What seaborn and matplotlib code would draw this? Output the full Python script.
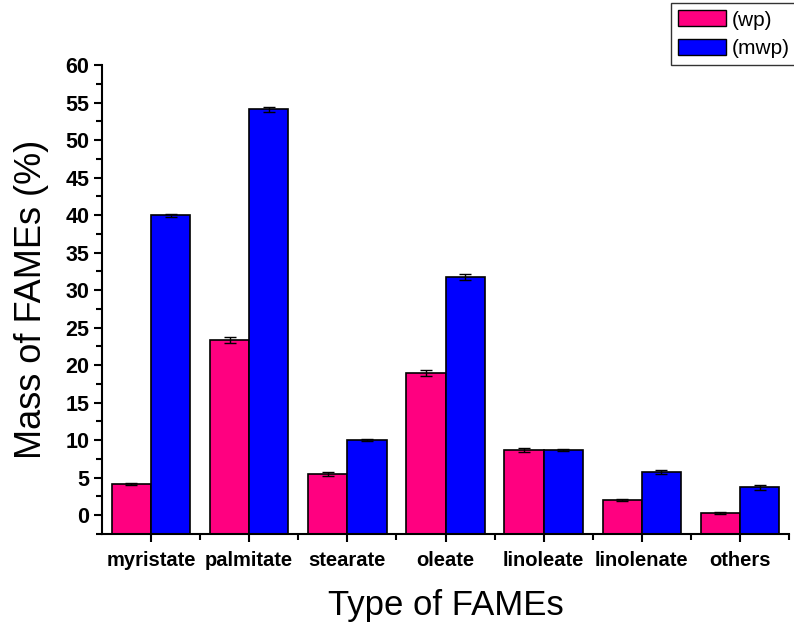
import matplotlib
matplotlib.use("Agg")
import matplotlib.pyplot as plt
import seaborn as sns
import pandas as pd
import numpy as np
from matplotlib.ticker import MultipleLocator
from matplotlib.patches import Patch

categories = ["myristate", "palmitate", "stearate", "oleate", "linoleate", "linolenate", "others"]
series_names = ["(wp)", "(mwp)"]
wp_values = [4.2, 23.4, 5.5, 18.9, 8.7, 2.0, 0.3]
mwp_values = [40.0, 54.1, 10.0, 31.8, 8.7, 5.8, 3.7]
wp_err = [0.15, 0.4, 0.25, 0.4, 0.3, 0.1, 0.1]
mwp_err = [0.2, 0.3, 0.15, 0.4, 0.1, 0.25, 0.3]
colors = ["#FF0080", "#0000FF"]

sns.set_style("ticks")
plt.rcParams['font.family'] = ['Liberation Sans', 'DejaVu Sans']
plt.rcParams['text.color'] = 'black'
plt.rcParams['axes.labelcolor'] = 'black'
plt.rcParams['xtick.color'] = 'black'
plt.rcParams['ytick.color'] = 'black'

df = pd.DataFrame({
    "cat": categories * 2,
    "series": [series_names[0]] * len(categories) + [series_names[1]] * len(categories),
    "val": wp_values + mwp_values,
    "err": wp_err + mwp_err,
})

fig = plt.figure(figsize=(7.94, 6.22), dpi=100)
ax = fig.add_axes([0.1285, 0.1415, 0.8652, 0.754])

YMIN = -2.5
sns.barplot(data=df, x="cat", y="val", hue="series", order=categories,
            hue_order=series_names, palette=colors, width=0.8, saturation=1,
            edgecolor="black", linewidth=1.2, errorbar=None, legend=False, ax=ax)

# extend bars down to the bottom of the axis and add error bars
for p in ax.patches:
    h = p.get_height()
    p.set_y(YMIN)
    p.set_height(h - YMIN)

for i, (vals, errs) in enumerate([(wp_values, wp_err), (mwp_values, mwp_err)]):
    offs = -0.2 if i == 0 else 0.2
    xs = np.arange(len(categories)) + offs
    ax.errorbar(xs, vals, yerr=errs, fmt="none", ecolor="black",
                elinewidth=1, capsize=4, capthick=1, zorder=5)

ax.set_xlim(-0.5, 6.4)
ax.set_ylim(YMIN, 60)
ax.yaxis.set_major_locator(MultipleLocator(5))
ax.yaxis.set_minor_locator(MultipleLocator(2.5))
ax.set_xticks(np.arange(len(categories)))
ax.set_xticks(np.arange(len(categories)) + 0.5, minor=True)
ax.set_xticklabels(categories, fontweight="bold", fontsize=14.5, color="black")
for lbl in ax.get_yticklabels():
    lbl.set_fontweight("bold")
    lbl.set_fontsize(15.5)
    lbl.set_color("black")

ax.tick_params(axis="both", which="major", direction="out", length=6, width=1.5, color="black")
ax.tick_params(axis="both", which="minor", direction="out", length=4, width=1.5, color="black")
ax.tick_params(axis="x", pad=6)
ax.tick_params(axis="y", pad=3)

for s in ["top", "right"]:
    ax.spines[s].set_visible(False)
for s in ["left", "bottom"]:
    ax.spines[s].set_linewidth(1.5)
    ax.spines[s].set_color("black")

ax.set_xlabel("Type of FAMEs", fontsize=25, labelpad=14, color="black")
ax.set_ylabel("Mass of FAMEs (%)", fontsize=26, labelpad=12, color="black")

handles = [Patch(facecolor=colors[0], edgecolor="black", label=series_names[0]),
           Patch(facecolor=colors[1], edgecolor="black", label=series_names[1])]
leg = fig.legend(handles=handles, loc="upper left", bbox_to_anchor=(0.845, 0.995),
                 frameon=True, fancybox=False, edgecolor="black", fontsize=15,
                 handlelength=2.3, handleheight=0.8, handletextpad=0.28,
                 borderpad=0.35, labelspacing=0.45, borderaxespad=0)
leg.get_frame().set_linewidth(1.0)
for t in leg.get_texts():
    t.set_color("black")

fig.savefig("out.png", dpi=100)
